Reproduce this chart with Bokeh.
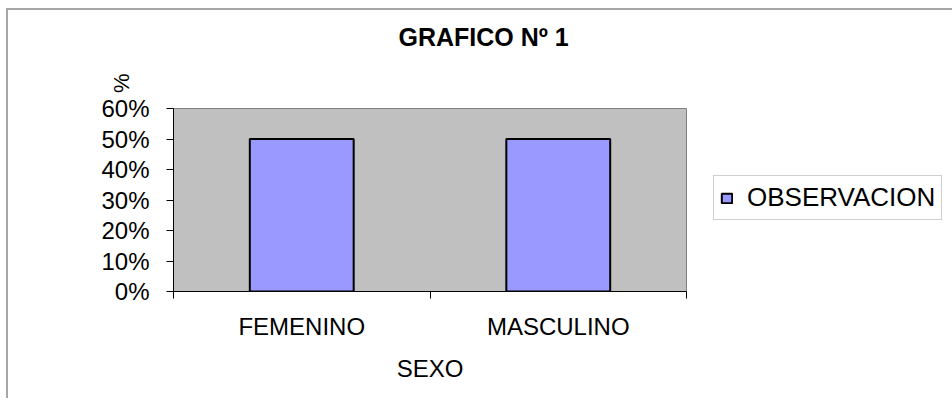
from bokeh.plotting import figure
from bokeh.models import (Range1d, FixedTicker, Title, Legend, LegendItem,
                          NumeralTickFormatter)
from bokeh.embed import file_html
from bokeh.resources import INLINE

# ---- data ----
categories = ["FEMENINO", "MASCULINO"]
observacion = [0.50, 0.50]
y_ticks = [0.0, 0.1, 0.2, 0.3, 0.4, 0.5, 0.6]
title_text = "GRAFICO Nº 1"
x_title = "SEXO"
y_title = "%"
series_name = "OBSERVACION"

FONT = "Liberation Sans"

xs = [i + 0.5 for i in range(len(categories))]

p = figure(frame_width=513, frame_height=183, title=None,
           output_backend="svg", toolbar_location=None,
           x_range=Range1d(0, len(categories)), y_range=Range1d(0, 0.6),
           min_border_left=173, min_border_right=258,
           min_border_top=108, min_border_bottom=107)
p.styles = {
    "background-image": "linear-gradient(#a6a6a6,#a6a6a6), linear-gradient(#a6a6a6,#a6a6a6)",
    "background-size": "2px 100%, 100% 2px",
    "background-position": "6px 8px, 6px 8px",
    "background-repeat": "no-repeat",
}

p.background_fill_color = "#C0C0C0"
p.border_fill_color = None
p.outline_line_color = "#808080"
p.outline_line_width = 1
p.xgrid.visible = False
p.ygrid.visible = False

r = p.vbar(x=xs, top=observacion, width=0.405, fill_color="#9999FF",
           line_color="black", line_width=2)

# spacer between plot area and title, then the title itself
p.add_layout(Title(text=" ", text_font=FONT, text_font_size="23px",
                   standoff=25), "above")
p.add_layout(Title(text=title_text, align="left", offset=225,
                   text_font=FONT, text_font_size="25px",
                   text_font_style="bold", text_color="black",
                   standoff=10), "above")

# x axis: labels at category centres, ticks at category boundaries
xa = p.xaxis[0]
xa.ticker = FixedTicker(ticks=xs, minor_ticks=list(range(len(categories) + 1)))
xa.major_label_overrides = {x: c for x, c in zip(xs, categories)}
xa.major_tick_out = 0
xa.major_tick_in = 0
xa.minor_tick_out = 7
xa.minor_tick_in = 0
xa.minor_tick_line_color = "black"
xa.axis_line_color = "black"
xa.major_label_text_font = FONT
xa.major_label_text_font_size = "24px"
xa.major_label_text_color = "black"
xa.major_label_standoff = 14
xa.axis_label = x_title
xa.axis_label_text_font = FONT
xa.axis_label_text_font_style = "normal"
xa.axis_label_text_font_size = "24px"
xa.axis_label_text_color = "black"
xa.axis_label_standoff = 12

ya = p.yaxis[0]
ya.ticker = FixedTicker(ticks=y_ticks, minor_ticks=[])
ya.formatter = NumeralTickFormatter(format="0%")
ya.major_tick_out = 7
ya.major_tick_in = 0
ya.major_tick_line_color = "black"
ya.axis_line_color = "black"
ya.major_label_text_font = FONT
ya.major_label_text_font_size = "24px"
ya.major_label_text_color = "black"
ya.major_label_standoff = 17

# y axis title "%" at the top of the axis, rotated
p.add_layout(Title(text=y_title, align="right", vertical_align="bottom",
                   offset=-35, standoff=-70,
                   text_font=FONT, text_font_size="22px",
                   text_font_style="normal", text_color="black"), "left")

legend = Legend(items=[LegendItem(label=series_name, renderers=[r])],
                location=(27, 71), margin=0, padding=6,
                glyph_width=13, glyph_height=12, label_standoff=14,
                label_text_font=FONT, label_text_font_size="26px",
                label_text_color="black",
                border_line_color="#a0a0a0", border_line_width=1,
                background_fill_color="white")
p.add_layout(legend, "right")

open("out.html", "w").write(file_html(p, INLINE))
